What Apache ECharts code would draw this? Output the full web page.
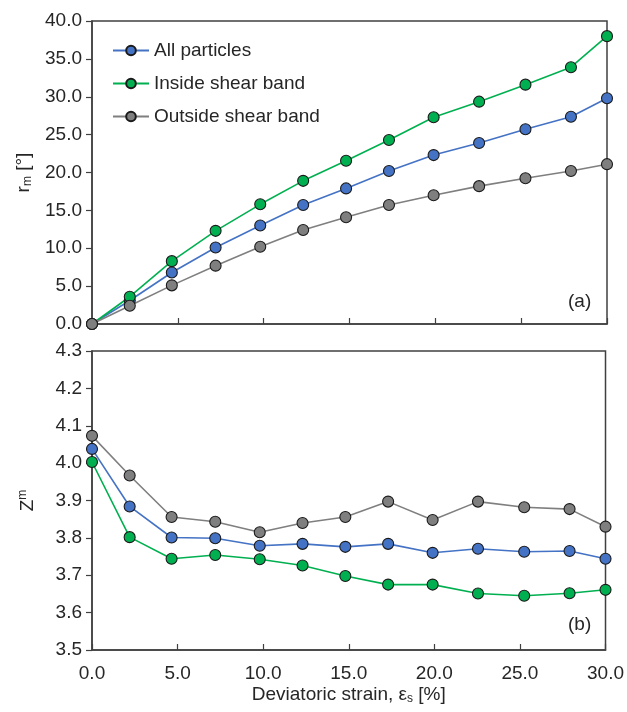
<!DOCTYPE html>
<html>
<head>
<meta charset="utf-8">
<script src="https://cdn.jsdelivr.net/npm/echarts@6/dist/echarts.min.js"></script>
<style>
  html, body { margin: 0; padding: 0; background: #fff; }
  #chart { width: 627px; height: 712px; }
</style>
</head>
<body>
<div id="chart"></div>
<script>
// deviatoric strain [%]
const strain = [0, 2.2, 4.65, 7.2, 9.8, 12.3, 14.8, 17.3, 19.9, 22.55, 25.25, 27.9, 30.0];

// (a) r_m [deg]
const rmAll = [0, 3.1, 6.8, 10.1, 13.0, 15.7, 17.9, 20.2, 22.3, 23.9, 25.7, 27.35, 29.8];
const rmInside = [0, 3.6, 8.3, 12.3, 15.8, 18.9, 21.55, 24.3, 27.3, 29.35, 31.6, 33.9, 38.0];
const rmOutside = [0, 2.4, 5.1, 7.7, 10.2, 12.4, 14.1, 15.7, 17.0, 18.2, 19.25, 20.2, 21.1];

// (b) Z^m
const zAll = [4.038, 3.884, 3.801, 3.799, 3.779, 3.784, 3.776, 3.784, 3.760, 3.771, 3.763, 3.765, 3.744];
const zInside = [4.003, 3.802, 3.744, 3.754, 3.743, 3.726, 3.698, 3.675, 3.675, 3.651, 3.645, 3.652, 3.661];
const zOutside = [4.073, 3.967, 3.856, 3.843, 3.815, 3.840, 3.856, 3.897, 3.848, 3.897, 3.882, 3.877, 3.830];

const seriesNames = ['All particles', 'Inside shear band', 'Outside shear band'];
const seriesColors = ['#4472C4', '#00B050', '#7F7F7F'];

const FONT = 'Liberation Sans, Arial, sans-serif';
const TEXT = '#262626';
const AXIS = '#404040';

const pair = (ys) => strain.map((x, i) => [x, ys[i]]);

const makeSeries = (name, color, ys, idx) => ({
  name: name,
  type: 'line',
  xAxisIndex: idx,
  yAxisIndex: idx,
  data: pair(ys),
  clip: false,
  symbol: 'circle',
  symbolSize: 11,
  lineStyle: { width: 1.6, color: color },
  itemStyle: { color: color, borderColor: '#1a1a1a', borderWidth: 1.1 },
  emphasis: { disabled: true },
  animation: false
});

const xAxisBase = (idx, showLabels) => ({
  type: 'value',
  gridIndex: idx,
  min: 0,
  max: 30,
  interval: 5,
  axisLine: { show: true, onZero: false, lineStyle: { color: AXIS, width: 1.5 } },
  axisTick: { show: true, inside: true, length: 6, lineStyle: { color: AXIS, width: 1.2 } },
  axisLabel: {
    show: showLabels,
    color: TEXT,
    fontSize: 19,
    fontFamily: FONT,
    margin: 14,
    formatter: v => v.toFixed(1)
  },
  splitLine: { show: false }
});

const yName = (sub, sup) => ({
  rich: {
    n: { color: TEXT, fontSize: 19, fontFamily: FONT },
    sub: { color: TEXT, fontSize: 12, fontFamily: FONT, padding: [9, 0, 0, 0] },
    sup: { color: TEXT, fontSize: 12, fontFamily: FONT, padding: [0, 0, 9, 0] }
  }
});

const chart = echarts.init(document.getElementById('chart'));

const option = {
  backgroundColor: '#fff',
  animation: false,
  grid: [
    { left: 92, right: 20, top: 21, height: 303, show: true, borderColor: AXIS, borderWidth: 1.5 },
    { left: 92, right: 20, top: 351, height: 299, show: true, borderColor: AXIS, borderWidth: 1.5 }
  ],
  legend: {
    data: seriesNames,
    orient: 'vertical',
    left: 107,
    top: 36,
    itemWidth: 36,
    itemHeight: 12,
    itemGap: 14,
    textStyle: { color: TEXT, fontSize: 19, fontFamily: FONT }
  },
  xAxis: [
    xAxisBase(0, false),
    Object.assign(xAxisBase(1, true), {
      name: '{n|Deviatoric strain, ε}{sub|s}{n| [%]}',
      nameLocation: 'middle',
      nameGap: 34,
      nameTextStyle: yName()
    })
  ],
  yAxis: [
    {
      type: 'value',
      gridIndex: 0,
      min: 0,
      max: 40,
      interval: 5,
      name: '{n|r}{sub|m}{n| [°]}',
      nameLocation: 'middle',
      nameGap: 54,
      nameTextStyle: yName(),
      axisLine: { show: true, lineStyle: { color: AXIS, width: 1.5 } },
      axisTick: { show: true, length: 6, lineStyle: { color: AXIS, width: 1.2 } },
      axisLabel: { color: TEXT, fontSize: 19, fontFamily: FONT, margin: 10, formatter: v => v.toFixed(1) },
      splitLine: { show: false }
    },
    {
      type: 'value',
      gridIndex: 1,
      min: 3.5,
      max: 4.3,
      interval: 0.1,
      name: '{n|Z}{sup|m}',
      nameLocation: 'middle',
      nameGap: 54,
      nameTextStyle: yName(),
      axisLine: { show: true, lineStyle: { color: AXIS, width: 1.5 } },
      axisTick: { show: true, length: 6, lineStyle: { color: AXIS, width: 1.2 } },
      axisLabel: { color: TEXT, fontSize: 19, fontFamily: FONT, margin: 10, formatter: v => v.toFixed(1) },
      splitLine: { show: false }
    }
  ],
  graphic: [
    { type: 'text', left: 568, top: 292, style: { text: '(a)', fill: TEXT, font: '19px ' + FONT } },
    { type: 'text', left: 568, top: 615, style: { text: '(b)', fill: TEXT, font: '19px ' + FONT } }
  ],
  series: [
    makeSeries(seriesNames[0], seriesColors[0], rmAll, 0),
    makeSeries(seriesNames[1], seriesColors[1], rmInside, 0),
    makeSeries(seriesNames[2], seriesColors[2], rmOutside, 0),
    makeSeries(seriesNames[0], seriesColors[0], zAll, 1),
    makeSeries(seriesNames[1], seriesColors[1], zInside, 1),
    makeSeries(seriesNames[2], seriesColors[2], zOutside, 1)
  ]
};

chart.setOption(option);
</script>
</body>
</html>
